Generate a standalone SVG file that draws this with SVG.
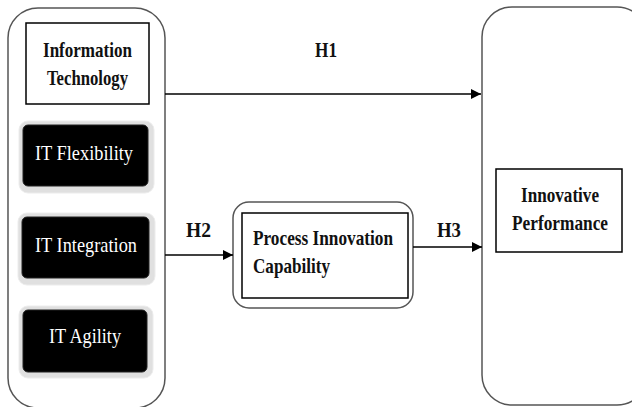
<svg xmlns="http://www.w3.org/2000/svg" width="632" height="407" viewBox="0 0 632 407">
<style>
.cont{fill:#fff;stroke:#555;stroke-width:1.5}
.box{fill:#fff;stroke:#000;stroke-width:1.5}
.blk{fill:#000;stroke:#222;stroke-width:1}
.shd{fill:#e0e0e0;stroke:#ececec;stroke-width:1}
.t{font-family:"Liberation Serif","Times New Roman",serif;font-size:22px;font-weight:bold;fill:#111}
.w{font-family:"Liberation Serif","Times New Roman",serif;font-size:22px;fill:#fff}
.c{stroke:#000;stroke-width:1.5;fill:none}
</style>
<defs>
<marker id="ah" viewBox="0 0 10 10" refX="10" refY="5" markerWidth="10" markerHeight="10" markerUnits="userSpaceOnUse" orient="auto">
<path d="M0,0 L10,5 L0,10 z" fill="#000"/>
</marker>
</defs>
<g id="it-container">
<rect class="cont" x="8" y="8" width="157" height="400" rx="30"/>
</g>
<g id="information-technology">
<rect class="box" x="26" y="23" width="123" height="81"/>
<text class="t" x="87.5" y="57" text-anchor="middle" textLength="89" lengthAdjust="spacingAndGlyphs">Information</text>
<text class="t" x="87.5" y="85" text-anchor="middle" textLength="81" lengthAdjust="spacingAndGlyphs">Technology</text>
</g>
<g id="it-flexibility">
<rect class="shd" x="19" y="121" width="135" height="72" rx="9"/>
<rect class="blk" x="23" y="125" width="125" height="61" rx="5"/>
<text class="w" x="84" y="160" text-anchor="middle" textLength="98" lengthAdjust="spacingAndGlyphs">IT Flexibility</text>
</g>
<g id="it-integration">
<rect class="shd" x="18" y="213" width="137" height="72" rx="9"/>
<rect class="blk" x="22" y="217" width="127" height="61" rx="5"/>
<text class="w" x="86" y="252" text-anchor="middle" textLength="102" lengthAdjust="spacingAndGlyphs">IT Integration</text>
</g>
<g id="it-agility">
<rect class="shd" x="19" y="306" width="134" height="72" rx="9"/>
<rect class="blk" x="23" y="310" width="124" height="62" rx="5"/>
<text class="w" x="85" y="343" text-anchor="middle" textLength="72" lengthAdjust="spacingAndGlyphs">IT Agility</text>
</g>
<g id="process-innovation-capability">
<rect class="cont" x="233" y="202" width="180" height="106" rx="16"/>
<rect class="box" x="242" y="213" width="166" height="85"/>
<text class="t" x="253" y="245" textLength="140" lengthAdjust="spacingAndGlyphs">Process Innovation</text>
<text class="t" x="253" y="273" textLength="77" lengthAdjust="spacingAndGlyphs">Capability</text>
</g>
<g id="performance-container">
<rect class="cont" x="482" y="7" width="165" height="398" rx="30"/>
</g>
<g id="innovative-performance">
<rect class="box" x="496" y="169" width="126" height="83"/>
<text class="t" x="560" y="202" text-anchor="middle" textLength="78" lengthAdjust="spacingAndGlyphs">Innovative</text>
<text class="t" x="560" y="230" text-anchor="middle" textLength="96" lengthAdjust="spacingAndGlyphs">Performance</text>
</g>
<g id="connectors">
<line class="c" x1="165" y1="94" x2="481" y2="94" marker-end="url(#ah)"/>
<line class="c" x1="165" y1="255" x2="233" y2="255" marker-end="url(#ah)"/>
<line class="c" x1="413" y1="247" x2="482" y2="247" marker-end="url(#ah)"/>
<text class="t" x="326" y="57" text-anchor="middle" textLength="22" lengthAdjust="spacingAndGlyphs">H1</text>
<text class="t" x="198.5" y="237" text-anchor="middle" textLength="25" lengthAdjust="spacingAndGlyphs">H2</text>
<text class="t" x="449" y="237" text-anchor="middle" textLength="24" lengthAdjust="spacingAndGlyphs">H3</text>
</g>
</svg>
